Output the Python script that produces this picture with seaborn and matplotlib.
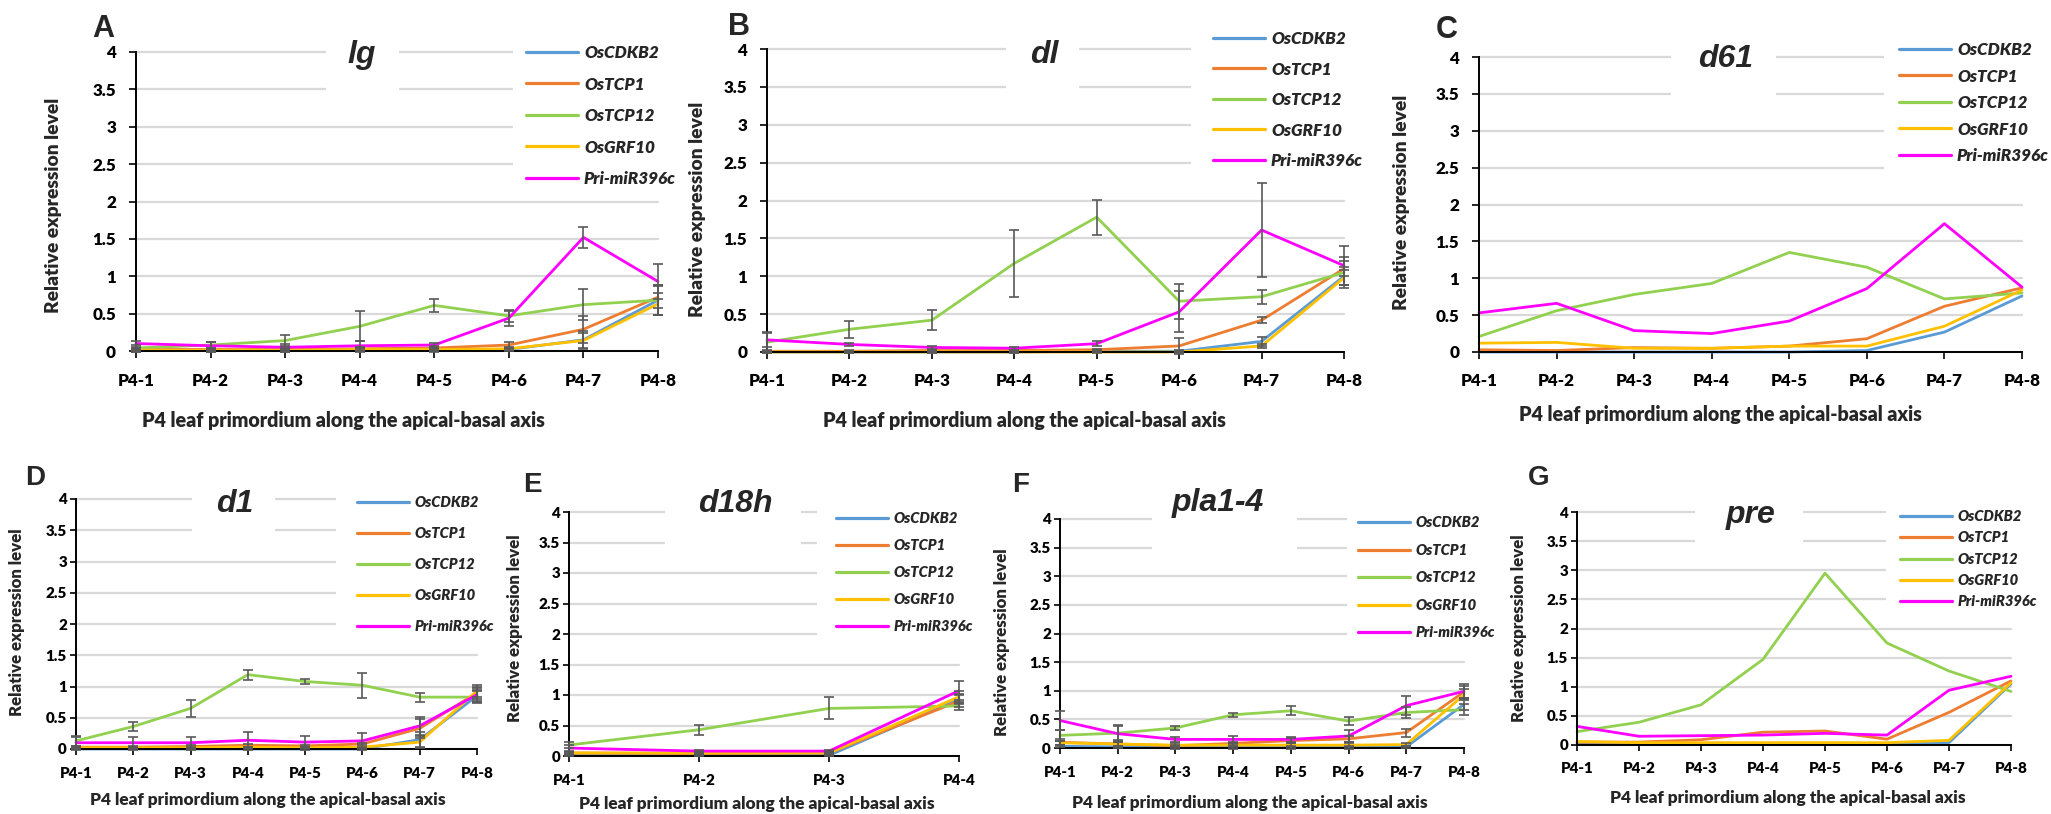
import matplotlib
matplotlib.use('Agg')
import matplotlib.pyplot as plt
from matplotlib.font_manager import FontProperties
from matplotlib.patches import Rectangle
import seaborn as sns
import pandas as pd

# ---- data ----
GENES = ['OsCDKB2', 'OsTCP1', 'OsTCP12', 'OsGRF10', 'Pri-miR396c']
COLORS = ['#5B9BD5', '#ED7D31', '#92D050', '#FFC000', '#FF00FF']
STAGES8 = ['P4-1', 'P4-2', 'P4-3', 'P4-4', 'P4-5', 'P4-6', 'P4-7', 'P4-8']
STAGES4 = ['P4-1', 'P4-2', 'P4-3', 'P4-4']
Y_TICKS = [0, 0.5, 1, 1.5, 2, 2.5, 3, 3.5, 4]
XLABEL = 'P4 leaf primordium along the apical-basal axis'
YLABEL = 'Relative expression level'

lg_vals = {
    'OsCDKB2': [0.01, 0.01, 0.01, 0.01, 0.01, 0.02, 0.15, 0.68],
    'OsTCP1': [0.02, 0.02, 0.02, 0.03, 0.04, 0.08, 0.29, 0.72],
    'OsTCP12': [0.04, 0.08, 0.14, 0.33, 0.61, 0.47, 0.62, 0.68],
    'OsGRF10': [0.01, 0.01, 0.01, 0.02, 0.02, 0.03, 0.14, 0.63],
    'Pri-miR396c': [0.10, 0.07, 0.05, 0.07, 0.08, 0.44, 1.52, 0.93],
}
lg_err = {
    'OsCDKB2': [0.02, 0.02, 0.02, 0.02, 0.02, 0.02, 0.12, 0.20],
    'OsTCP1': [0.02, 0.02, 0.02, 0.03, 0.03, 0.04, 0.18, 0.15],
    'OsTCP12': [0.04, 0.04, 0.07, 0.20, 0.09, 0.08, 0.21, 0.20],
    'OsGRF10': [0.02, 0.02, 0.02, 0.02, 0.02, 0.02, 0.10, 0.15],
    'Pri-miR396c': [0.04, 0.05, 0.04, 0.07, 0.03, 0.10, 0.14, 0.24],
}

dl_vals = {
    'OsCDKB2': [0.00, 0.00, 0.00, 0.00, 0.01, 0.01, 0.14, 1.00],
    'OsTCP1': [0.01, 0.01, 0.02, 0.02, 0.03, 0.08, 0.42, 1.10],
    'OsTCP12': [0.13, 0.30, 0.42, 1.17, 1.78, 0.67, 0.73, 1.05],
    'OsGRF10': [0.00, 0.00, 0.00, 0.00, 0.00, 0.00, 0.08, 0.98],
    'Pri-miR396c': [0.16, 0.10, 0.06, 0.05, 0.11, 0.53, 1.61, 1.14],
}
dl_err = {
    'OsCDKB2': [0.01, 0.01, 0.01, 0.01, 0.01, 0.01, 0.06, 0.12],
    'OsTCP1': [0.01, 0.01, 0.01, 0.01, 0.01, 0.10, 0.04, 0.10],
    'OsTCP12': [0.12, 0.11, 0.13, 0.44, 0.23, 0.23, 0.09, 0.20],
    'OsGRF10': [0.01, 0.01, 0.01, 0.01, 0.01, 0.01, 0.03, 0.10],
    'Pri-miR396c': [0.10, 0.02, 0.02, 0.02, 0.03, 0.27, 0.62, 0.26],
}

d61_vals = {
    'OsCDKB2': [0.00, 0.00, 0.00, 0.00, 0.00, 0.02, 0.27, 0.76],
    'OsTCP1': [0.03, 0.02, 0.06, 0.05, 0.08, 0.18, 0.62, 0.87],
    'OsTCP12': [0.21, 0.56, 0.78, 0.93, 1.35, 1.15, 0.72, 0.80],
    'OsGRF10': [0.12, 0.13, 0.05, 0.05, 0.08, 0.08, 0.35, 0.84],
    'Pri-miR396c': [0.53, 0.66, 0.29, 0.25, 0.42, 0.86, 1.74, 0.88],
}

d1_vals = {
    'OsCDKB2': [0.00, 0.00, 0.00, 0.00, 0.00, 0.00, 0.15, 0.85],
    'OsTCP1': [0.03, 0.03, 0.04, 0.06, 0.05, 0.08, 0.33, 0.90],
    'OsTCP12': [0.13, 0.36, 0.65, 1.19, 1.08, 1.02, 0.83, 0.83],
    'OsGRF10': [0.02, 0.02, 0.02, 0.03, 0.02, 0.03, 0.11, 0.93],
    'Pri-miR396c': [0.10, 0.10, 0.10, 0.14, 0.11, 0.13, 0.37, 0.87],
}
d1_err = {
    'OsCDKB2': [0.01, 0.01, 0.01, 0.01, 0.01, 0.01, 0.12, 0.10],
    'OsTCP1': [0.02, 0.02, 0.02, 0.02, 0.02, 0.02, 0.15, 0.10],
    'OsTCP12': [0.08, 0.07, 0.14, 0.08, 0.04, 0.20, 0.07, 0.10],
    'OsGRF10': [0.01, 0.01, 0.01, 0.01, 0.01, 0.01, 0.10, 0.10],
    'Pri-miR396c': [0.10, 0.10, 0.10, 0.13, 0.10, 0.12, 0.14, 0.10],
}

d18h_vals = {
    'OsCDKB2': [0.01, 0.01, 0.01, 0.93],
    'OsTCP1': [0.05, 0.04, 0.05, 0.90],
    'OsTCP12': [0.18, 0.43, 0.78, 0.82],
    'OsGRF10': [0.05, 0.05, 0.05, 0.97],
    'Pri-miR396c': [0.13, 0.08, 0.08, 1.07],
}
d18h_err = {
    'OsCDKB2': [0.01, 0.01, 0.01, 0.08],
    'OsTCP1': [0.02, 0.01, 0.01, 0.10],
    'OsTCP12': [0.05, 0.08, 0.18, 0.07],
    'OsGRF10': [0.02, 0.01, 0.01, 0.10],
    'Pri-miR396c': [0.05, 0.02, 0.02, 0.16],
}

pla_vals = {
    'OsCDKB2': [0.03, 0.02, 0.01, 0.01, 0.01, 0.01, 0.02, 0.76],
    'OsTCP1': [0.10, 0.07, 0.04, 0.08, 0.13, 0.16, 0.27, 0.98],
    'OsTCP12': [0.22, 0.26, 0.35, 0.58, 0.65, 0.47, 0.62, 0.67],
    'OsGRF10': [0.09, 0.07, 0.05, 0.05, 0.05, 0.05, 0.06, 0.93],
    'Pri-miR396c': [0.48, 0.25, 0.15, 0.15, 0.15, 0.21, 0.74, 0.99],
}
pla_err = {
    'OsCDKB2': [0.02, 0.02, 0.02, 0.02, 0.02, 0.02, 0.02, 0.10],
    'OsTCP1': [0.05, 0.05, 0.02, 0.03, 0.04, 0.05, 0.07, 0.10],
    'OsTCP12': [0.10, 0.12, 0.03, 0.04, 0.08, 0.07, 0.10, 0.10],
    'OsGRF10': [0.03, 0.03, 0.03, 0.03, 0.03, 0.03, 0.03, 0.10],
    'Pri-miR396c': [0.16, 0.15, 0.05, 0.06, 0.05, 0.10, 0.17, 0.12],
}

pre_vals = {
    'OsCDKB2': [0.02, 0.01, 0.01, 0.01, 0.01, 0.01, 0.04, 1.05],
    'OsTCP1': [0.05, 0.05, 0.09, 0.22, 0.24, 0.10, 0.56, 1.10],
    'OsTCP12': [0.23, 0.39, 0.69, 1.47, 2.95, 1.75, 1.27, 0.92],
    'OsGRF10': [0.06, 0.04, 0.04, 0.04, 0.04, 0.04, 0.08, 1.07],
    'Pri-miR396c': [0.32, 0.15, 0.16, 0.17, 0.20, 0.17, 0.94, 1.18],
}

# ---- layout, in pixels of the 2051x814 figure ----
W, H = 2051, 814
TEXT_FONT = 'Lato'
TEXT_WEIGHT = 'heavy'
HEAD_FONT = 'Liberation Sans'

# box = (x left, x right, y of 4, y of 0)
# leg = (x of legend line start, y of first line, row spacing, gridline cut x, lowest hidden gridline)
# gap = (title box left, title box right)
panels = [
    dict(letter='A', title='lg', vals=lg_vals, err=lg_err, stages=STAGES8, row='top',
         box=(136, 658, 52, 351), let=(92, 37), tit=(362, 63), gap=(326, 399),
         leg=(526, 52, 31.5, 513, 2.5), ylab=(54, 205), xlab=(343, 421), xtl=29),
    dict(letter='B', title='dl', vals=dl_vals, err=dl_err, stages=STAGES8, row='top',
         box=(767, 1344, 49, 352), let=(728, 35), tit=(1044, 63), gap=(1006, 1079),
         leg=(1213, 38, 30.5, 1191, 2.5), ylab=(698, 209), xlab=(1024, 420), xtl=28),
    dict(letter='C', title='d61', vals=d61_vals, err=None, stages=STAGES8, row='top',
         box=(1479, 2022, 57, 352), let=(1436, 38), tit=(1726, 67), gap=(1671, 1776),
         leg=(1899, 49, 26.5, 1884, 2.5), ylab=(1401, 202), xlab=(1720, 415), xtl=28),
    dict(letter='D', title='d1', vals=d1_vals, err=d1_err, stages=STAGES8, row='bottom',
         box=(76, 477, 499, 749), let=(25, 485), tit=(235, 512), gap=(192, 275),
         leg=(357, 502, 31, 336, 2.0), ylab=(17, 622), xlab=(268, 800), xtl=24),
    dict(letter='E', title='d18h', vals=d18h_vals, err=d18h_err, stages=STAGES4, row='bottom',
         box=(569, 959, 512, 756), let=(523, 492), tit=(735, 512), gap=(665, 801),
         leg=(836, 518, 27, 817, 2.0), ylab=(515, 628), xlab=(757, 804), xtl=24),
    dict(letter='F', title='pla1-4', vals=pla_vals, err=pla_err, stages=STAGES8, row='bottom',
         box=(1060, 1464, 519, 748), let=(1012, 492), tit=(1218, 511), gap=(1152, 1297),
         leg=(1358, 522, 27.5, 1347, 2.0), ylab=(1002, 642), xlab=(1250, 803), xtl=24),
    dict(letter='G', title='pre', vals=pre_vals, err=None, stages=STAGES8, row='bottom',
         box=(1577, 2011, 512, 745), let=(1528, 485), tit=(1751, 523), gap=(1695, 1803),
         leg=(1900, 516, 21.25, 1886, 2.5), ylab=(1519, 628), xlab=(1788, 798), xtl=23),
]

# target text widths in pixels
targets = {
    'top': dict(tick=37, ylab=217, xlab=407, leg=92, letter=22, ticklen=6.5, ygap=20),
    'bottom': dict(tick=33, ylab=190, xlab=356, leg=79, letter=20, ticklen=6, ygap=9),
}

sns.set_theme(style='white')
plt.rcParams['font.family'] = [TEXT_FONT, 'DejaVu Sans']

fig = plt.figure(figsize=(W / 100, H / 100), dpi=100)
renderer = fig.canvas.get_renderer()
PX = 100 / 72  # pixels per point


def fx(x):
    return x / W


def fy(y):
    return 1 - y / H


def measure(s, size, style='normal', family=TEXT_FONT, weight=TEXT_WEIGHT):
    fp = FontProperties(family=family, weight=weight, style=style, size=size)
    return renderer.get_text_width_height_descent(s, fp, ismath=False)


def fit(s, target_px, style='normal'):
    w, _, _ = measure(s, 10, style=style)
    return 10 * target_px / w


sizes = {}
for row, t in targets.items():
    sizes[row] = dict(
        tick=fit('P4-1', t['tick']),
        ylab=fit(YLABEL, t['ylab']),
        xlab=fit(XLABEL, t['xlab']),
        leg=fit('Pri-miR396c', t['leg'], style='italic'),
    )


def place_legend(item):
    ax = item['ax']
    lfs = item['size']
    lfs_px = lfs * PX
    leg = ax.legend(item['handles'], GENES, loc='upper left',
                    bbox_to_anchor=(fx(item['x']), fy(item['top'])),
                    bbox_transform=fig.transFigure, borderaxespad=0, borderpad=0,
                    labelspacing=item['lsp'], handlelength=52 / lfs_px,
                    handletextpad=6 / lfs_px, frameon=False,
                    prop=dict(family=TEXT_FONT, weight=TEXT_WEIGHT, style='italic', size=lfs))
    for ln in leg.get_lines():
        ln.set_linewidth(2.3)
    item['leg'] = leg


legends = []

for p in panels:
    s = sizes[p['row']]
    t = targets[p['row']]
    x0, x1, ytop, ybot = p['box']
    ax = fig.add_axes([fx(x0), fy(ybot), (x1 - x0) / W, (ybot - ytop) / H])
    n = len(p['stages'])

    def ypix(v):
        return ybot - v * (ybot - ytop) / 4

    rows = []
    for g in GENES:
        for i, v in enumerate(p['vals'][g]):
            rows.append({'gene': g, 'pos': i, 'value': v})
    df = pd.DataFrame(rows)

    sns.lineplot(data=df, x='pos', y='value', hue='gene', hue_order=GENES,
                 palette=COLORS, linewidth=2.0, errorbar=None, legend=False,
                 ax=ax, zorder=2)
    handles = list(ax.lines)
    for ln in handles:
        ln.set_clip_on(False)

    if p['err'] is not None:
        for g in GENES:
            cont = ax.errorbar(range(n), p['vals'][g], yerr=p['err'][g], fmt='none',
                               ecolor='#595959', elinewidth=1.2, capsize=3.5,
                               capthick=1.2, zorder=3)
            for child in cont.get_children():
                child.set_clip_on(False)

    ax.set_xlim(0, n - 1)
    ax.set_ylim(0, 4)
    ax.set_xticks(range(n))
    ax.set_xticklabels(p['stages'])
    ax.set_yticks(Y_TICKS)
    ax.set_yticklabels([f'{v:g}' for v in Y_TICKS])
    ax.set_xlabel('')
    ax.set_ylabel('')
    ax.grid(axis='y', color='#D9D9D9', linewidth=1.6)
    ax.grid(axis='x', visible=False)
    ax.set_axisbelow(True)
    for gl in ax.get_ygridlines():
        gl.set_clip_on(False)
    for side in ['top', 'right']:
        ax.spines[side].set_visible(False)
    for side in ['left', 'bottom']:
        ax.spines[side].set_color('black')
        ax.spines[side].set_linewidth(1.4)

    # tick label padding from the measured offsets
    fs_px = s['tick'] * PX
    _, h_lp, d_lp = measure('lp', s['tick'])
    asc = h_lp - d_lp
    xpad_px = p['xtl'] - t['ticklen'] - asc + 0.36 * fs_px
    ypad_px = t['ygap'] - t['ticklen']
    ax.tick_params(axis='both', direction='out', length=t['ticklen'] / PX, width=1.2,
                   color='black', labelsize=s['tick'], labelcolor='black')
    ax.tick_params(axis='y', pad=ypad_px / PX, left=True)
    ax.tick_params(axis='x', pad=max(xpad_px, 0) / PX, bottom=True)
    for lab in ax.get_xticklabels() + ax.get_yticklabels():
        lab.set_fontweight(TEXT_WEIGHT)

    # white areas that interrupt the gridlines behind the title and legend
    lx, ly, lstep, cut, low = p['leg']
    ax.add_patch(Rectangle((fx(cut), fy(ypix(low - 0.25))), (x1 + 6 - cut) / W,
                           (ypix(low - 0.25) - (ytop - 12)) / H, transform=fig.transFigure,
                           facecolor='white', edgecolor='none', zorder=1, clip_on=False))
    g0, g1 = p['gap']
    ax.add_patch(Rectangle((fx(g0), fy(ypix(3.25))), (g1 - g0) / W,
                           (ypix(3.25) - (ytop - 12)) / H, transform=fig.transFigure,
                           facecolor='white', edgecolor='none', zorder=1, clip_on=False))

    # legend: first guess, corrected below after measuring
    lfs = s['leg']
    lfs_px = lfs * PX
    _, h_lp, d_lp = measure('lp', lfs, style='italic')
    asc = h_lp - d_lp
    row_h = asc + max(d_lp, 0.35 * lfs_px)
    item = dict(ax=ax, handles=handles, size=lfs, x=lx, y=ly, step=lstep,
                lsp=(lstep - row_h) / lfs_px, top=ly - asc + 0.175 * lfs_px)
    place_legend(item)
    legends.append(item)

    # panel title and letter
    ax.text(fx(p['tit'][0]), fy(p['tit'][1]), p['title'], transform=fig.transFigure,
            ha='center', va='baseline', fontsize=23, fontweight='bold', style='italic',
            family=HEAD_FONT, zorder=4, clip_on=False)
    fig.text(fx(p['let'][0]), fy(p['let'][1]), p['letter'], ha='left', va='baseline',
             fontsize=t['letter'], fontweight='bold', family=HEAD_FONT)
    fig.text(fx(p['ylab'][0]), fy(p['ylab'][1]), YLABEL, rotation=90, ha='center',
             va='center', fontsize=s['ylab'], fontweight=TEXT_WEIGHT)
    fig.text(fx(p['xlab'][0]), fy(p['xlab'][1]), XLABEL, ha='center', va='center',
             fontsize=s['xlab'], fontweight=TEXT_WEIGHT)

# measure the legend rows and nudge spacing / position to the reference
for _ in range(3):
    fig.canvas.draw()
    rend = fig.canvas.get_renderer()
    for item in legends:
        centers = []
        for ln in item['leg'].get_lines():
            bb = ln.get_window_extent(rend)
            centers.append(H - (bb.y0 + bb.y1) / 2)
        step = (centers[-1] - centers[0]) / (len(centers) - 1)
        item['lsp'] += (item['step'] - step) / (item['size'] * PX)
        item['top'] += item['y'] - centers[0]
        place_legend(item)

fig.savefig('out.png', dpi=100, facecolor='white')
